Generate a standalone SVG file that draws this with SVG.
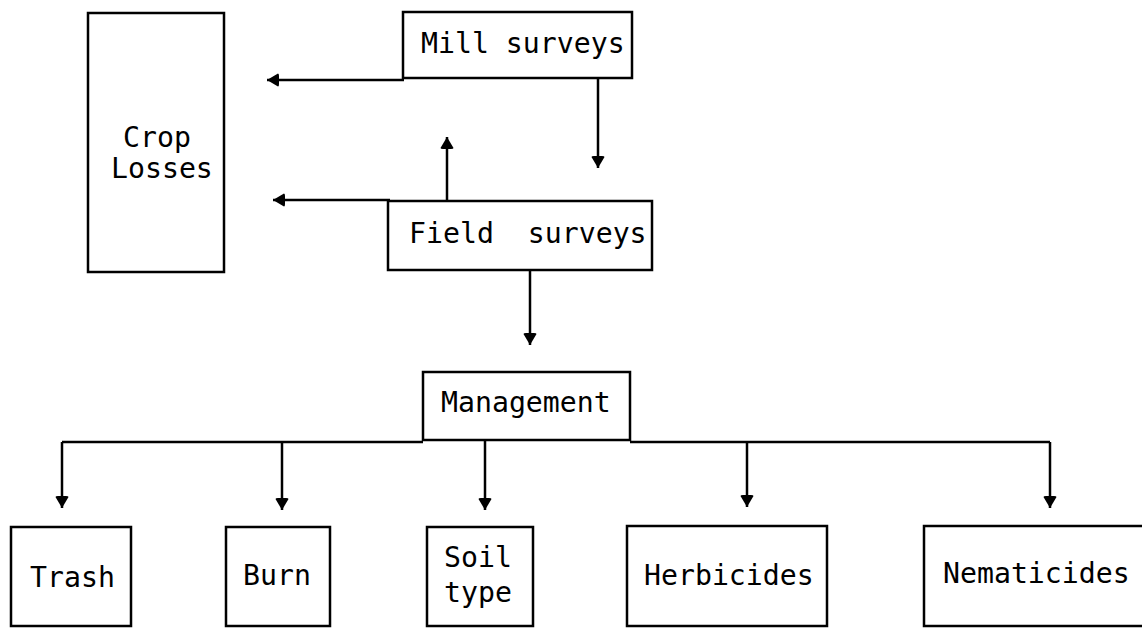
<svg xmlns="http://www.w3.org/2000/svg" width="1142" height="628" viewBox="0 0 1142 628">
<style>
.box{fill:#fff;stroke:#000;stroke-width:2.5}
.lbl{font-family:"DejaVu Sans Mono","Liberation Mono",monospace;font-size:28.2px;fill:#000}
.con{fill:none;stroke:#000;stroke-width:2.5}
</style>
<defs>
<marker id="ah" viewBox="0 0 12 14" refX="12" refY="7" markerWidth="12" markerHeight="14" markerUnits="userSpaceOnUse" orient="auto">
<path d="M1,0.5 Q0,0.5 0,3 L0,11 Q0,13.5 1,13.5 L12,7 Z" fill="#000"/>
</marker>
</defs>
<g id="connectors">
<path class="con" d="M404,80 H267" marker-end="url(#ah)"/>
<path class="con" d="M598,78 V168" marker-end="url(#ah)"/>
<path class="con" d="M390,200 H273" marker-end="url(#ah)"/>
<path class="con" d="M447,201 V137" marker-end="url(#ah)"/>
<path class="con" d="M530,270 V345" marker-end="url(#ah)"/>
<path class="con" d="M423,442 H62"/>
<path class="con" d="M62,442 V508" marker-end="url(#ah)"/>
<path class="con" d="M282,442 V510" marker-end="url(#ah)"/>
<path class="con" d="M485,440 V510" marker-end="url(#ah)"/>
<path class="con" d="M630,442 H1050"/>
<path class="con" d="M747,442 V507" marker-end="url(#ah)"/>
<path class="con" d="M1050,442 V508" marker-end="url(#ah)"/>
</g>
<g id="crop-losses">
<rect class="box" x="88" y="13" width="136" height="259"/>
<text class="lbl" x="123" y="147">Crop</text>
<text class="lbl" x="111" y="178">Losses</text>
</g>
<g id="mill-surveys">
<rect class="box" x="403" y="12" width="229" height="66"/>
<text class="lbl" x="421" y="53">Mill surveys</text>
</g>
<g id="field-surveys">
<rect class="box" x="388" y="201" width="264" height="69"/>
<text class="lbl" x="409" y="243" xml:space="preserve">Field  surveys</text>
</g>
<g id="management">
<rect class="box" x="423" y="372" width="207" height="68"/>
<text class="lbl" x="441" y="412">Management</text>
</g>
<g id="trash">
<rect class="box" x="11" y="527" width="120" height="99"/>
<text class="lbl" x="30" y="587">Trash</text>
</g>
<g id="burn">
<rect class="box" x="226" y="527" width="104" height="99"/>
<text class="lbl" x="243" y="585">Burn</text>
</g>
<g id="soil-type">
<rect class="box" x="427" y="527" width="106" height="99"/>
<text class="lbl" x="444" y="567">Soil</text>
<text class="lbl" x="444" y="602">type</text>
</g>
<g id="herbicides">
<rect class="box" x="627" y="526" width="200" height="100"/>
<text class="lbl" x="644" y="585">Herbicides</text>
</g>
<g id="nematicides">
<rect class="box" x="924" y="526" width="230" height="100"/>
<text class="lbl" x="943" y="583">Nematicides</text>
</g>
</svg>
